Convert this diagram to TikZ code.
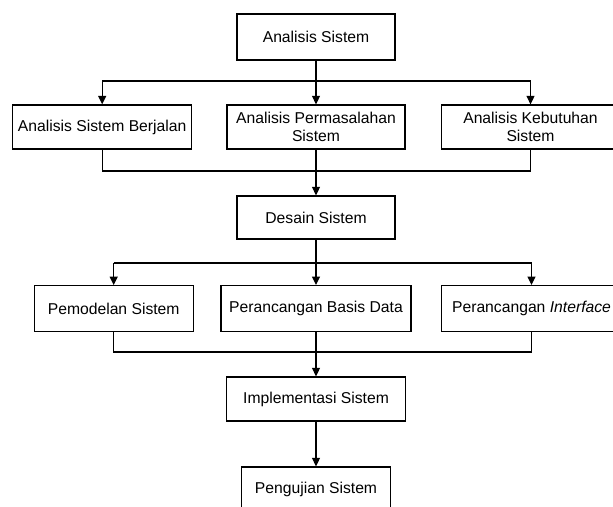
\documentclass[tikz,border=0pt]{standalone}
\usepackage{fontspec}
\setmainfont{Liberation Sans}
\usetikzlibrary{arrows.meta}

\begin{document}
\begin{tikzpicture}[
  x=1pt, y=-1pt,
  every node/.style={font=\fontsize{15.7}{18.3}\selectfont},
  box/.style={draw=black, line width=1.3pt, fill=white, inner sep=0pt,
              align=center, minimum height=44pt},
  link/.style={draw=black, line width=1.3pt},
  arr/.style={link, -{Triangle[length=8.5pt, width=8pt]}}
]
% page frame
\useasboundingbox (0,0) rectangle (613,506);
\fill[white] (0,0) rectangle (613,506);
\clip (0,0) rectangle (613,506);

% boxes
\node[box, minimum width=158pt, minimum height=46pt] (as) at (316,37) {Analisis Sistem};
\node[box, minimum width=179pt] (a1) at (102.2,127) {Analisis Sistem Berjalan};
\node[box, minimum width=178pt] (a2) at (316,127) {Analisis Permasalahan\\Sistem};
\node[box, minimum width=178pt] (a3) at (530.5,127) {Analisis Kebutuhan\\Sistem};
\node[box, minimum width=158pt, minimum height=43pt] (ds) at (316,217.5) {Desain Sistem};
\node[box, minimum width=159pt, minimum height=46pt] (d1) at (113.7,308.7) {Pemodelan Sistem};
\node[box, minimum width=190pt, minimum height=46pt] (d2) at (316,308.7) {Perancangan Basis Data};
\node[box, minimum width=180pt, minimum height=46pt] (d3) at (531.5,308.7) {Perancangan \textit{Interface}};
\node[box, minimum width=179pt] (im) at (316,399) {Implementasi Sistem};
\node[box, minimum width=149pt] (pg) at (316,489) {Pengujian Sistem};

% bus levels
\coordinate (b1) at (316,81);
\coordinate (b2) at (316,171);
\coordinate (b3) at (316,263);
\coordinate (b4) at (316,352);

% Analisis Sistem -> three analyses
\draw[link] (as.south) -- (b1);
\draw[link] (a1.north |- b1) -- (a3.north |- b1);
\draw[arr] (a1.north |- b1) -- (a1.north);
\draw[arr] (b1) -- (a2.north);
\draw[arr] (a3.north |- b1) -- (a3.north);

% three analyses -> Desain Sistem
\draw[link] (a1.south) -- (a1.south |- b2) -- (a3.south |- b2) -- (a3.south);
\draw[arr] (a2.south) -- (ds.north);

% Desain Sistem -> three designs
\draw[link] (ds.south) -- (b3);
\draw[link] (d1.north |- b3) -- (d3.north |- b3);
\draw[arr] (d1.north |- b3) -- (d1.north);
\draw[arr] (b3) -- (d2.north);
\draw[arr] (d3.north |- b3) -- (d3.north);

% three designs -> Implementasi Sistem
\draw[link] (d1.south) -- (d1.south |- b4) -- (d3.south |- b4) -- (d3.south);
\draw[arr] (d2.south) -- (im.north);

% Implementasi Sistem -> Pengujian Sistem
\draw[arr] (im.south) -- (pg.north);
\end{tikzpicture}
\end{document}
